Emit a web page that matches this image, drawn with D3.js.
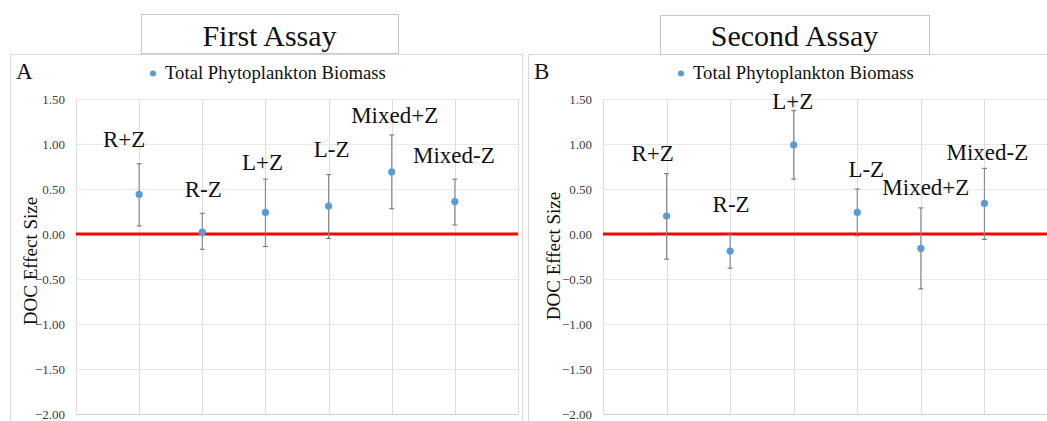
<!DOCTYPE html>
<html>
<head>
<meta charset="utf-8">
<script src="https://cdn.jsdelivr.net/npm/d3@7"></script>
<style>
  html, body { margin: 0; padding: 0; background: #fff; }
  svg { display: block; }
  svg text { font-family: "Liberation Serif", "Times New Roman", serif; }
</style>
</head>
<body>
<svg id="chart" width="1047" height="421"></svg>
<script>
// Treatments, in plotting order
const categories = ["R+Z", "R-Z", "L+Z", "L-Z", "Mixed+Z", "Mixed-Z"];

// First assay: DOC effect size with upper / lower error limits
const firstMean  = [0.44, 0.02, 0.24, 0.31, 0.69, 0.36];
const firstUpper = [0.78, 0.23, 0.61, 0.66, 1.10, 0.61];
const firstLower = [0.09, -0.17, -0.14, -0.05, 0.28, 0.10];

// Second assay
const secondMean  = [0.20, -0.19, 0.99, 0.24, -0.16, 0.34];
const secondUpper = [0.67, 0.00, 1.37, 0.50, 0.29, 0.73];
const secondLower = [-0.28, -0.38, 0.61, -0.02, -0.61, -0.06];

const yTicks = [1.5, 1.0, 0.5, 0.0, -0.5, -1.0, -1.5, -2.0];
const legendLabel = "Total Phytoplankton Biomass";
const axisTitle = "DOC Effect Size";

const svg = d3.select("#chart");
const SERIF = "'Liberation Serif', 'Times New Roman', serif";
const POINT = "#5b9bd5";
const GRID = "#dedede";
const FRAME = "#d9d9d9";

const panels = [
  {
    title: "First Assay", letter: "A",
    mean: firstMean, upper: firstUpper, lower: firstLower,
    box: { x: 10, y: 54, w: 512, h: 380 },
    titleBox: { x: 141, y: 14, w: 257, h: 39 },
    plot: { x0: 76, x1: 518 },
    legendDotX: 153,
    axisTitleX: 37, axisTitleY: 261,
    // per-label nudges (px) from the point
    nudge: [[-15, -47], [1, -35], [-3, -42], [3, -49], [3, -49], [-1, -39]]
  },
  {
    title: "Second Assay", letter: "B",
    mean: secondMean, upper: secondUpper, lower: secondLower,
    box: { x: 528, y: 54, w: 530, h: 380 },
    titleBox: { x: 660, y: 15, w: 269, h: 39 },
    plot: { x0: 603, x1: 1048 },
    legendDotX: 681,
    axisTitleX: 560, axisTitleY: 256,
    nudge: [[-14, -55], [1, -39], [-1, -36], [9, -35], [5, -53], [3, -43]]
  }
];

panels.forEach(p => {
  const g = svg.append("g");

  // panel frame
  g.append("rect")
    .attr("x", p.box.x + 0.5).attr("y", p.box.y + 0.5)
    .attr("width", p.box.w).attr("height", p.box.h)
    .attr("fill", "#fff").attr("stroke", FRAME).attr("stroke-width", 1);

  // title box above the panel
  g.append("rect")
    .attr("x", p.titleBox.x + 0.5).attr("y", p.titleBox.y + 0.5)
    .attr("width", p.titleBox.w).attr("height", p.titleBox.h)
    .attr("fill", "#fff").attr("stroke", "#c8c8c8").attr("stroke-width", 1);
  g.append("text")
    .attr("x", p.titleBox.x + p.titleBox.w / 2).attr("y", 46)
    .attr("text-anchor", "middle")
    .style("font-family", SERIF)
    .attr("font-size", 30).attr("fill", "#111")
    .text(p.title);

  // panel letter
  g.append("text")
    .attr("x", p.box.x + 6).attr("y", 79)
    .style("font-family", SERIF)
    .attr("font-size", 23).attr("fill", "#111")
    .text(p.letter);

  // legend
  g.append("circle")
    .attr("cx", p.legendDotX).attr("cy", 73.5).attr("r", 3)
    .attr("fill", POINT);
  g.append("text")
    .attr("x", p.legendDotX + 12).attr("y", 79)
    .style("font-family", SERIF)
    .attr("font-size", 18.7).attr("fill", "#111")
    .text(legendLabel);

  const x = d3.scaleLinear().domain([0, 7]).range([p.plot.x0, p.plot.x1]);
  const y = d3.scaleLinear().domain([-2, 1.5]).range([414, 99]);

  // horizontal gridlines
  g.append("g").selectAll("line").data(yTicks).join("line")
    .attr("x1", x(0)).attr("x2", x(7))
    .attr("y1", d => Math.round(y(d)) + 0.5).attr("y2", d => Math.round(y(d)) + 0.5)
    .attr("stroke", d => d === -2 ? "#d0d0d0" : "#e8e8e8").attr("stroke-width", 1);

  // vertical gridlines (plot edges and each treatment)
  g.append("g").selectAll("line").data(d3.range(0, 8)).join("line")
    .attr("x1", d => Math.round(x(d)) + 0.5).attr("x2", d => Math.round(x(d)) + 0.5)
    .attr("y1", y(1.5)).attr("y2", y(-2))
    .attr("stroke", GRID).attr("stroke-width", 1);

  // y axis tick labels
  const yAxis = d3.axisLeft(y).tickValues(yTicks).tickFormat(d3.format(".2f"))
    .tickSize(0).tickPadding(11);
  const ax = g.append("g").attr("transform", `translate(${x(0)},0)`).call(yAxis);
  ax.attr("font-family", null);
  ax.select(".domain").remove();
  ax.selectAll("text")
    .style("font-family", SERIF)
    .attr("font-size", 13).attr("fill", "#404040");

  // axis title
  g.append("text")
    .attr("transform", `translate(${p.axisTitleX},${p.axisTitleY}) rotate(-90)`)
    .attr("text-anchor", "middle")
    .style("font-family", SERIF)
    .attr("font-size", 19).attr("fill", "#111")
    .text(axisTitle);

  // zero reference line
  g.append("line")
    .attr("x1", x(0)).attr("x2", x(7))
    .attr("y1", y(0)).attr("y2", y(0))
    .attr("stroke", "#ff0000").attr("stroke-width", 3);

  const rows = categories.map((c, i) => ({
    cat: c, i, mean: p.mean[i], upper: p.upper[i], lower: p.lower[i], nudge: p.nudge[i]
  }));

  // error bars
  const eb = g.append("g").selectAll("g").data(rows).join("g");
  eb.append("line")
    .attr("x1", d => x(d.i + 1)).attr("x2", d => x(d.i + 1))
    .attr("y1", d => y(d.upper)).attr("y2", d => y(d.lower))
    .attr("stroke", "#8c8c8c").attr("stroke-width", 1.2);
  eb.append("line")
    .attr("x1", d => x(d.i + 1) - 2.5).attr("x2", d => x(d.i + 1) + 2.5)
    .attr("y1", d => y(d.upper)).attr("y2", d => y(d.upper))
    .attr("stroke", "#6f6f6f").attr("stroke-width", 1);
  eb.append("line")
    .attr("x1", d => x(d.i + 1) - 2.5).attr("x2", d => x(d.i + 1) + 2.5)
    .attr("y1", d => y(d.lower)).attr("y2", d => y(d.lower))
    .attr("stroke", "#6f6f6f").attr("stroke-width", 1);

  // points
  g.append("g").selectAll("circle").data(rows).join("circle")
    .attr("cx", d => x(d.i + 1)).attr("cy", d => y(d.mean))
    .attr("r", 3.6).attr("fill", POINT);

  // treatment labels
  g.append("g").selectAll("text").data(rows).join("text")
    .attr("x", d => x(d.i + 1) + d.nudge[0])
    .attr("y", d => y(d.mean) + d.nudge[1])
    .attr("text-anchor", "middle")
    .style("font-family", SERIF)
    .attr("font-size", 23).attr("fill", "#111")
    .text(d => d.cat);
});
</script>
</body>
</html>
